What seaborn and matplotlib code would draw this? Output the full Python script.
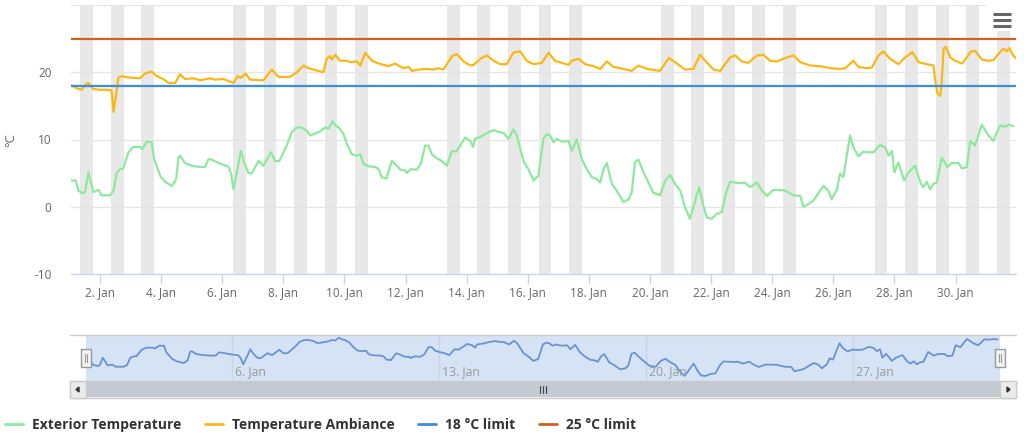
import numpy as np
import pandas as pd
import matplotlib
matplotlib.use("Agg")
import matplotlib.pyplot as plt
import matplotlib.transforms as mtransforms
from matplotlib.patches import Rectangle, Polygon
from matplotlib.lines import Line2D
import seaborn as sns

# day of month (Jan 2020, fractional) and temperature in degC
ext_day = [1.05, 1.21, 1.29, 1.43, 1.51, 1.62, 1.73, 1.78, 1.95, 2.05, 2.33, 2.44, 2.55,
           2.66, 2.76, 2.93, 3.09, 3.31, 3.39, 3.53, 3.69, 3.77, 3.97, 4.13, 4.35, 4.40,
           4.49, 4.57, 4.62, 4.78, 5.00, 5.28, 5.44, 5.55, 5.66, 5.93, 6.20, 6.29, 6.37,
           6.50, 6.61, 6.73, 6.86, 6.97, 7.19, 7.35, 7.59, 7.73, 7.87, 8.11, 8.28, 8.44,
           8.60, 8.77, 8.88, 9.04, 9.21, 9.37, 9.48, 9.61, 9.70, 9.81, 9.97, 10.08, 10.24,
           10.41, 10.52, 10.62, 10.79, 11.01, 11.12, 11.22, 11.37, 11.55, 11.72, 11.83,
           11.99, 12.04, 12.17, 12.37, 12.50, 12.64, 12.75, 12.86, 13.03, 13.19, 13.35,
           13.52, 13.66, 13.79, 13.95, 14.12, 14.21, 14.28, 14.50, 14.72, 14.88, 15.05,
           15.20, 15.37, 15.53, 15.64, 15.86, 16.02, 16.19, 16.35, 16.51, 16.62, 16.73,
           16.84, 16.95, 17.11, 17.22, 17.33, 17.44, 17.60, 17.77, 17.93, 18.10, 18.26,
           18.37, 18.48, 18.59, 18.75, 18.91, 19.13, 19.30, 19.40, 19.51, 19.62, 19.79,
           19.95, 20.11, 20.33, 20.50, 20.66, 20.82, 20.99, 21.15, 21.31, 21.48, 21.61,
           21.75, 21.86, 22.02, 22.17, 22.35, 22.51, 22.62, 22.79, 22.95, 23.11, 23.28,
           23.50, 23.66, 23.82, 24.04, 24.26, 24.42, 24.50, 24.70, 24.92, 25.02, 25.19,
           25.35, 25.52, 25.68, 25.84, 25.95, 26.12, 26.22, 26.33, 26.44, 26.55, 26.66,
           26.82, 26.99, 27.10, 27.32, 27.53, 27.70, 27.81, 27.92, 28.00, 28.13, 28.32,
           28.46, 28.68, 28.85, 28.95, 29.06, 29.17, 29.28, 29.39, 29.55, 29.74, 29.88,
           30.10, 30.21, 30.37, 30.48, 30.64, 30.86, 31.08, 31.24, 31.46, 31.63, 31.74,
           31.90]
ext_temp = [3.9, 3.9, 2.4, 2.0, 2.2, 5.1, 3.1, 2.2, 2.5, 1.7, 1.7, 2.4, 5.1,
            5.6, 5.7, 8.1, 8.9, 8.9, 8.6, 9.7, 9.6, 7.1, 4.6, 3.7, 3.1, 3.4,
            4.1, 7.3, 7.6, 6.5, 6.1, 5.9, 5.9, 7.1, 7.0, 6.4, 6.0, 4.9, 2.6,
            5.6, 8.3, 6.4, 5.0, 5.0, 6.8, 6.1, 8.1, 6.8, 6.8, 9.1, 11.1, 11.8,
            11.8, 11.3, 10.6, 10.9, 11.2, 11.8, 11.6, 12.7, 12.1, 11.8, 10.8, 9.3, 7.8,
            7.6, 7.8, 6.4, 6.0, 5.9, 5.6, 4.4, 4.2, 6.8, 6.1, 5.5,
            5.4, 5.0, 5.6, 5.5, 6.4, 9.1, 9.1, 7.8, 7.2, 6.8, 6.1,
            8.3, 8.2, 9.1, 10.3, 9.8, 8.9, 10.1, 10.5, 11.1, 11.4, 11.1,
            11.0, 10.1, 11.5, 10.6, 6.8, 5.6, 3.9, 4.6, 10.1, 10.8, 10.6,
            9.6, 10.1, 9.7, 9.7, 9.8, 8.3, 10.0, 7.1, 5.6, 4.4, 4.1,
            3.6, 5.6, 6.5, 3.4, 2.4, 0.7, 1.1, 2.1, 6.6, 7.0, 5.1,
            3.6, 2.1, 1.7, 3.9, 4.7, 3.4, 2.4, -0.1, -1.8, 0.9, 2.9,
            0.1, -1.6, -1.8, -1.1, -0.8, 2.4, 3.7, 3.6, 3.5, 3.6, 2.9,
            3.6, 2.4, 1.6, 2.5, 2.5, 2.4, 2.2, 1.7, 1.6, 0.0, 0.4,
            0.9, 2.1, 3.1, 2.4, 1.1, 2.6, 4.9, 4.4, 7.6, 10.6, 8.8,
            7.5, 8.2, 8.1, 8.1, 9.2, 8.8, 7.6, 8.3, 5.1, 6.6, 3.9,
            5.1, 6.1, 3.6, 2.9, 3.7, 2.6, 3.4, 3.6, 7.3, 5.9, 6.5,
            6.5, 5.7, 5.9, 9.8, 9.1, 12.2, 10.6, 9.8, 12.1, 11.9, 12.2,
            12.0]

amb_day = [1.05, 1.24, 1.40, 1.56, 1.62, 1.78, 2.00, 2.22, 2.38, 2.44, 2.52, 2.60, 2.71,
           2.98, 3.31, 3.47, 3.69, 3.86, 4.07, 4.24, 4.46, 4.62, 4.78, 5.06, 5.28, 5.60,
           5.77, 6.04, 6.37, 6.50, 6.61, 6.77, 6.91, 7.35, 7.62, 7.84, 8.22, 8.44, 8.66,
           8.82, 8.99, 9.31, 9.42, 9.53, 9.59, 9.70, 9.86, 10.08, 10.19, 10.41, 10.52,
           10.68, 10.90, 11.12, 11.44, 11.66, 11.93, 12.10, 12.21, 12.43, 12.70, 12.92,
           13.08, 13.24, 13.52, 13.68, 13.90, 14.12, 14.23, 14.45, 14.66, 14.88, 15.10,
           15.31, 15.53, 15.75, 15.97, 16.19, 16.46, 16.68, 16.89, 17.11, 17.33, 17.44,
           17.66, 17.88, 18.15, 18.37, 18.59, 18.80, 19.13, 19.40, 19.62, 19.90, 20.33,
           20.61, 20.82, 21.15, 21.42, 21.64, 21.81, 22.08, 22.30, 22.62, 22.79, 23.01,
           23.22, 23.50, 23.71, 23.93, 24.15, 24.48, 24.70, 24.92, 25.24, 25.57, 25.90,
           26.22, 26.39, 26.66, 26.82, 27.10, 27.26, 27.48, 27.64, 27.86, 28.13, 28.35,
           28.59, 28.79, 29.06, 29.28, 29.33, 29.41, 29.50, 29.55, 29.61, 29.68, 29.83,
           29.99, 30.21, 30.37, 30.48, 30.64, 30.86, 31.08, 31.24, 31.46, 31.57, 31.68,
           31.76, 31.90, 31.98]
amb_temp = [18.1, 17.6, 17.4, 18.3, 18.4, 17.5, 17.4, 17.4, 17.3, 14.1, 16.5, 19.2, 19.4,
            19.2, 19.1, 19.8, 20.1, 19.4, 19.0, 18.4, 18.4, 19.7, 19.0, 19.1, 18.8, 19.1,
            18.9, 19.0, 18.4, 19.4, 19.2, 19.8, 18.9, 18.8, 20.4, 19.3, 19.3, 20.0, 21.0,
            20.6, 20.4, 20.0, 22.0, 22.4, 21.9, 22.6, 21.7, 21.7, 21.5, 21.6, 21.0,
            22.9, 21.7, 21.3, 20.9, 21.3, 20.6, 20.8, 20.2, 20.4, 20.5, 20.4,
            20.6, 20.4, 22.4, 22.7, 21.6, 21.0, 21.1, 22.0, 22.5, 21.7, 21.2,
            21.2, 22.9, 23.1, 21.7, 21.2, 21.4, 22.9, 21.7, 21.4, 21.1, 21.7,
            22.0, 21.2, 20.9, 20.5, 21.6, 20.8, 20.5, 20.2, 21.0, 20.5, 20.2,
            22.1, 21.5, 20.4, 20.5, 22.6, 21.7, 20.4, 20.2, 22.2, 22.5, 21.6,
            21.4, 22.5, 22.6, 21.7, 21.6, 22.2, 22.5, 21.5, 21.0, 20.9, 20.6,
            20.5, 20.6, 21.7, 20.8, 20.6, 20.7, 22.5, 23.1, 22.0, 21.2, 22.2,
            23.0, 21.5, 21.2, 21.0, 19.0, 16.8, 16.5, 18.5, 23.5, 23.8, 22.2,
            21.7, 21.3, 22.2, 23.0, 23.2, 21.9, 21.7, 21.8, 23.0, 23.5, 23.1,
            23.6, 22.4, 22.1]

limit_low = 18
limit_high = 25
series_names = ["Exterior Temperature", "Temperature Ambiance", "18 °C limit", "25 °C limit"]

# working-hours plot bands (weekdays, 08:30-18:30)
work_days = [1, 2, 3, 6, 7, 8, 9, 10, 13, 14, 15, 16, 17, 20, 21, 22, 23, 24,
             27, 28, 29, 30, 31]
band_hours = (8.5, 18.5)

main_tick_days = list(range(2, 31, 2))
nav_tick_days = [6, 13, 20, 27]
y_ticks = [-10, 0, 10, 20, 30]
y_labels = ["-10", "0", "10", "20", ""]
view_days = (1.05, 31.98)

GREEN = "#8ee89e"
YELLOW = "#fbb715"
BLUE = "#3a8fdc"
ORANGE = "#d0621f"

start = pd.Timestamp("2020-01-01")


def to_time(d):
    return start + pd.to_timedelta(np.asarray(d, dtype=float) - 1, unit="D")


W, H = 1024, 437


def fx(px):
    return px / W


def fy(py):
    return 1 - py / H


sns.set_theme(style="white")
plt.rcParams["font.family"] = ["Open Sans", "DejaVu Sans"]

fig = plt.figure(figsize=(W / 100, H / 100), dpi=100)
fig.patch.set_facecolor("white")

# ---- main chart ----
ax = fig.add_axes([fx(71), fy(274), fx(1016) - fx(71), fy(5) - fy(274)])
for d in work_days:
    ax.axvspan(to_time(d + band_hours[0] / 24), to_time(d + band_hours[1] / 24),
               color="#e8e8e8", lw=0, zorder=0)

ext_df = pd.DataFrame({"time": to_time(ext_day), "temp": ext_temp})
amb_df = pd.DataFrame({"time": to_time(amb_day), "temp": amb_temp})
sns.lineplot(data=ext_df, x="time", y="temp", ax=ax, color=GREEN, lw=1.6, zorder=3)
sns.lineplot(data=amb_df, x="time", y="temp", ax=ax, color=YELLOW, lw=1.6, zorder=3)
ax.axhline(limit_low, color=BLUE, lw=1.6, zorder=3)
ax.axhline(limit_high, color=ORANGE, lw=1.6, zorder=3)

ax.set_xlim(to_time(view_days[0]), to_time(view_days[1]))
ax.set_ylim(-10, 30)
ax.set_yticks(y_ticks)
ax.set_yticklabels(y_labels)
ax.set_xticks(to_time(main_tick_days))
ax.set_xticklabels([f"{d}. Jan" for d in main_tick_days])
ax.set_axisbelow(True)
ax.yaxis.grid(True, color="#e6e6e6", lw=1)
ax.xaxis.grid(False)
ax.set_xlabel("")
ax.set_ylabel("")
for s in ["left", "right", "top"]:
    ax.spines[s].set_visible(False)
ax.spines["bottom"].set_color("#ccd6eb")
ax.spines["bottom"].set_linewidth(1)
ax.tick_params(axis="x", length=7, width=1, color="#ccd6eb", labelcolor="#666666",
               labelsize=8.5, pad=2, bottom=True)
ax.tick_params(axis="y", length=0, labelcolor="#666666", labelsize=8.5, pad=14)
fig.text(fx(11), fy(140), "°C", rotation=90, ha="center", va="center",
         color="#666666", fontsize=9.5)

# export menu button
ax.add_patch(Rectangle((fx(986), fy(31)), fx(30), fy(5) - fy(31), transform=fig.transFigure,
                       facecolor="white", edgecolor="none", zorder=1))
for yy in (13.5, 19.5, 25.5):
    fig.add_artist(Line2D([fx(993), fx(1011)], [fy(yy), fy(yy)], color="#666666",
                          lw=2.2, solid_capstyle="butt"))

# ---- navigator ----
nav = fig.add_axes([fx(86), fy(381), fx(1000) - fx(86), fy(335) - fy(381)])
nav.set_facecolor("#d6e3f5")
sns.lineplot(data=ext_df, x="time", y="temp", ax=nav, color="#6a93cf", lw=1.3)
nav.set_xlim(to_time(view_days[0]), to_time(view_days[1]))
nav.set_ylim(-3.7, 13.7)
nav.set_yticks([])
nav.set_xticks(to_time(nav_tick_days))
nav.set_xticklabels([])
nav.tick_params(axis="x", length=0)
nav.xaxis.grid(True, color="#c7d5e9", lw=1)
nav.set_xlabel("")
nav.set_ylabel("")
for s in nav.spines.values():
    s.set_visible(False)
lab_tr = mtransforms.offset_copy(mtransforms.blended_transform_factory(nav.transData, nav.transAxes),
                                 fig=fig, x=3, y=0, units="dots")
for d in nav_tick_days:
    nav.text(to_time(d), 0.2, f"{d}. Jan", transform=lab_tr, ha="left", va="center",
             color="#999999", fontsize=8.8)

fig.add_artist(Line2D([fx(70), fx(1016)], [fy(335), fy(335)], color="#cccccc", lw=1))

# handles
for hx in (81, 995):
    fig.add_artist(Rectangle((fx(hx), fy(367)), fx(10), fy(349) - fy(367),
                             transform=fig.transFigure, facecolor="#f2f2f2",
                             edgecolor="#999999", lw=1))
    for lx in (hx + 4, hx + 6):
        fig.add_artist(Line2D([fx(lx), fx(lx)], [fy(362), fy(354)], color="#999999", lw=0.8))

# scrollbar
fig.add_artist(Rectangle((fx(70), fy(398)), fx(946), fy(381) - fy(398), transform=fig.transFigure,
                         facecolor="#f2f2f2", edgecolor="#cccccc", lw=1))
fig.add_artist(Rectangle((fx(86), fy(397)), fx(914), fy(381) - fy(397), transform=fig.transFigure,
                         facecolor="#c4cad2", edgecolor="none"))
for bx in (70, 1000):
    fig.add_artist(Rectangle((fx(bx), fy(398)), fx(16), fy(381) - fy(398),
                             transform=fig.transFigure, facecolor="#ebebeb",
                             edgecolor="#cccccc", lw=1))
fig.add_artist(Polygon([[fx(76), fy(389.5)], [fx(79), fy(387)], [fx(79), fy(392)]],
                       closed=True, transform=fig.transFigure, color="#333333"))
fig.add_artist(Polygon([[fx(1010), fy(389.5)], [fx(1007), fy(387)], [fx(1007), fy(392)]],
                       closed=True, transform=fig.transFigure, color="#333333"))
for rx in (540, 543, 546):
    fig.add_artist(Line2D([fx(rx), fx(rx)], [fy(386), fy(393)], color="#444444", lw=0.8))

# ---- legend ----
handles = [Line2D([], [], color=c, lw=2) for c in (GREEN, YELLOW, BLUE, ORANGE)]
fig.legend(handles, series_names, loc="center left", bbox_to_anchor=(fx(2), fy(425)),
           ncol=4, frameon=False, handlelength=1.3, handletextpad=0.65, columnspacing=1.7,
           prop={"weight": "bold", "size": 10}, labelcolor="#333333",
           borderaxespad=0, borderpad=0.2)

fig.savefig("out.png", dpi=100)
